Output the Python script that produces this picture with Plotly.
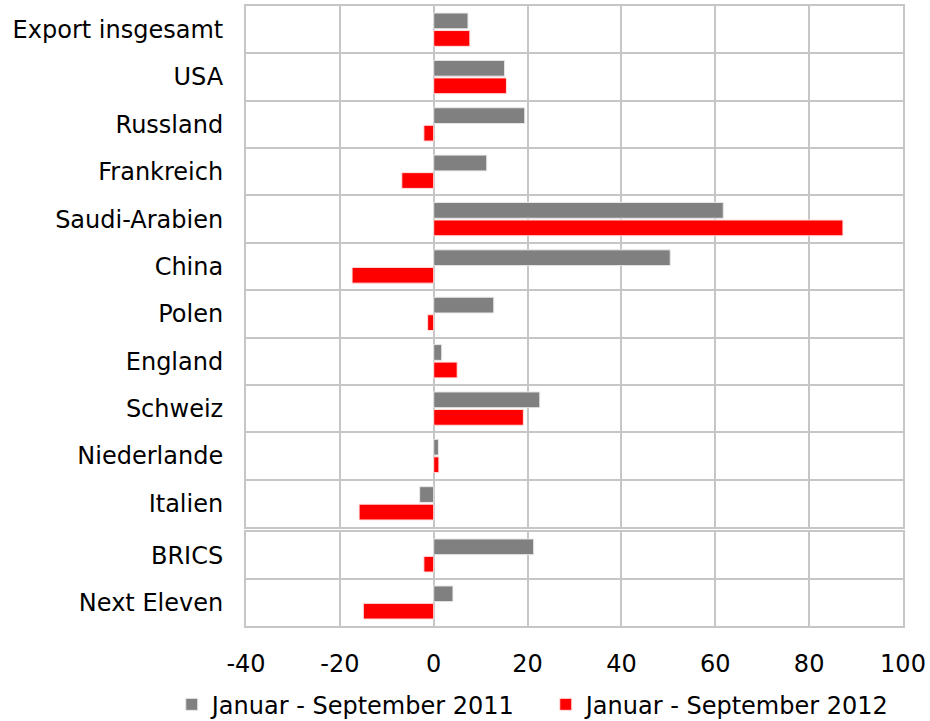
import plotly.graph_objects as go
from plotly.subplots import make_subplots

categories_top = ["Export insgesamt", "USA", "Russland", "Frankreich", "Saudi-Arabien", "China",
                  "Polen", "England", "Schweiz", "Niederlande", "Italien"]
categories_bottom = ["BRICS", "Next Eleven"]

values_2011_top = [7.3, 15.1, 19.4, 11.3, 61.7, 50.4, 12.8, 1.7, 22.6, 1.0, -3.0]
values_2012_top = [7.7, 15.5, -2.1, -6.8, 87.2, -17.4, -1.3, 5.0, 19.1, 1.1, -15.9]
values_2011_bottom = [21.3, 4.1]
values_2012_bottom = [-2.1, -15.0]

name_2011 = "Januar - September 2011"
name_2012 = "Januar - September 2012"
x_ticks = [-40, -20, 0, 20, 40, 60, 80, 100]
x_ticktext = [str(v) for v in x_ticks]

GRAY = "#808080"
RED = "#ff0000"
GRID = "#c6c6c6"
FONT = "DejaVu Sans, Liberation Sans, Arial, sans-serif"

fig = make_subplots(rows=2, cols=1, shared_xaxes=True, vertical_spacing=5 / 620,
                    row_heights=[521, 94])

for cats, v11, v12, row, show in [
    (categories_top, values_2011_top, values_2012_top, 1, True),
    (categories_bottom, values_2011_bottom, values_2012_bottom, 2, False),
]:
    fig.add_trace(go.Bar(y=cats, x=v11, name=name_2011, orientation="h",
                         marker=dict(color=GRAY, line=dict(color="#e8e8e8", width=1)),
                         showlegend=show, legendgroup="a"), row=row, col=1)
    fig.add_trace(go.Bar(y=cats, x=v12, name=name_2012, orientation="h",
                         marker=dict(color=RED, line=dict(color="#ffe0e0", width=1)),
                         showlegend=show, legendgroup="b"), row=row, col=1)

fig.update_layout(
    width=930, height=721,
    margin=dict(l=246, r=27, t=6, b=95, autoexpand=False),
    paper_bgcolor="white", plot_bgcolor="white",
    barmode="group", bargap=0.26, bargroupgap=0.1,
    font=dict(family=FONT, size=24, color="black"),
    legend=dict(orientation="h", x=-0.113, xanchor="left", y=-0.127, yanchor="middle",
                font=dict(size=24), itemwidth=30, traceorder="normal",
                entrywidth=329, entrywidthmode="pixels"),
)

for r in (1, 2):
    fig.update_yaxes(type="category", autorange="reversed", tickson="boundaries",
                     showgrid=True, gridcolor=GRID, gridwidth=2,
                     showline=True, linecolor=GRID, linewidth=2, mirror=True,
                     ticks="", ticklabelstandoff=16, row=r, col=1)
    fig.update_xaxes(range=[-40, 100], tickvals=x_ticks, ticktext=x_ticktext,
                     showgrid=True, gridcolor=GRID,
                     gridwidth=2, zeroline=True, zerolinecolor=GRID, zerolinewidth=2,
                     showline=True, linecolor=GRID, linewidth=2, mirror=True,
                     ticks="", row=r, col=1)
fig.update_xaxes(ticklabelstandoff=15, row=2, col=1)

fig.write_html("out.html", config={"displayModeBar": False},
               post_script="document.body.style.margin='0px';")
